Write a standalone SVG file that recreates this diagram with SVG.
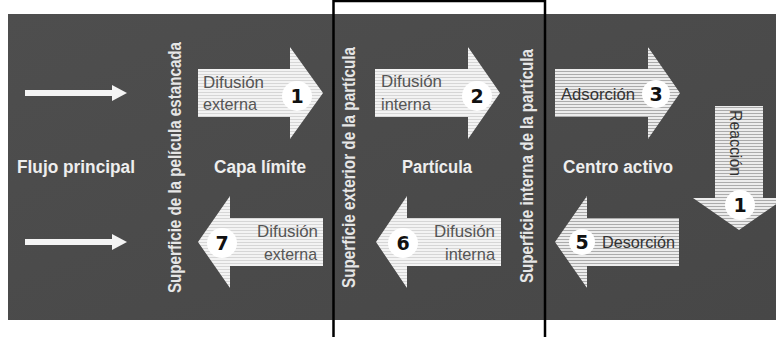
<svg xmlns="http://www.w3.org/2000/svg" width="776" height="337" viewBox="0 0 776 337">
<defs>
<pattern id="stripeL" width="6" height="3" patternUnits="userSpaceOnUse">
<rect width="6" height="3" fill="#f3f3f3"/>
<rect y="2" width="6" height="1" fill="#d6d6d6"/>
</pattern>
<pattern id="stripeD" width="6" height="3" patternUnits="userSpaceOnUse">
<rect width="6" height="3" fill="#ececec"/>
<rect y="2" width="6" height="1" fill="#ababab"/>
</pattern>
<linearGradient id="bg" x1="0" y1="0" x2="1" y2="1">
<stop offset="0" stop-color="#4e4e4e"/>
<stop offset="1" stop-color="#474747"/>
</linearGradient>
</defs>
<style>
.lbl{font-family:"Liberation Sans",Arial,sans-serif;font-weight:bold;font-size:18px;fill:#eeeeee;text-anchor:middle}
.vt{font-family:"Liberation Sans",Arial,sans-serif;font-weight:bold;font-size:17.5px;fill:#e6e6e6;text-anchor:middle}
.at{font-family:"Liberation Sans",Arial,sans-serif;font-size:17px;fill:#555555}
.atd{font-family:"Liberation Sans",Arial,sans-serif;font-size:17px;fill:#333333}
.num{font-family:"DejaVu Sans",Verdana,sans-serif;font-weight:bold;font-size:19px;fill:#111111;text-anchor:middle;dominant-baseline:central}
.circ{fill:#ffffff}
.flow{fill:#f4f4f4}
</style>
<rect x="8" y="14" width="768" height="306" fill="url(#bg)"/>

<g id="connectors">
<g id="flow-top"><rect class="flow" x="25" y="90" width="88" height="6"/><polygon class="flow" points="112,85 127,93 112,101"/></g>
<g id="flow-bottom"><rect class="flow" x="25" y="239" width="88" height="6"/><polygon class="flow" points="112,234 127,242 112,250"/></g>
</g>

<g id="flujo-principal"><text class="lbl" x="76" y="173" textLength="118" lengthAdjust="spacingAndGlyphs">Flujo principal</text></g>
<g id="capa-limite"><text class="lbl" x="260" y="173" textLength="92" lengthAdjust="spacingAndGlyphs">Capa límite</text></g>
<g id="particula"><text class="lbl" x="437" y="173" textLength="70" lengthAdjust="spacingAndGlyphs">Partícula</text></g>
<g id="centro-activo"><text class="lbl" x="618" y="173" textLength="110" lengthAdjust="spacingAndGlyphs">Centro activo</text></g>

<g id="sup-pelicula"><text class="vt" transform="translate(181,167.5) rotate(-90)" textLength="251" lengthAdjust="spacingAndGlyphs">Superficie de la película estancada</text></g>
<g id="sup-exterior"><text class="vt" transform="translate(355,167.5) rotate(-90)" textLength="241" lengthAdjust="spacingAndGlyphs">Superficie exterior de la partícula</text></g>
<g id="sup-interna"><text class="vt" transform="translate(533,166) rotate(-90)" textLength="234" lengthAdjust="spacingAndGlyphs">Superficie interna de la partícula</text></g>

<g id="step1">
<polygon fill="url(#stripeL)" points="198,69 290,69 290,47 323,93 290,139 290,117 198,117"/>
<text class="at" x="203" y="88" textLength="61" lengthAdjust="spacingAndGlyphs">Difusión</text>
<text class="at" x="203" y="110" textLength="54" lengthAdjust="spacingAndGlyphs">externa</text>
<circle class="circ" cx="297" cy="96" r="15"/>
<text class="num" x="297" y="96">1</text>
</g>

<g id="step2">
<polygon fill="url(#stripeL)" points="375,69 468,69 468,47 500,93 468,139 468,117 375,117"/>
<text class="at" x="381" y="87" textLength="61" lengthAdjust="spacingAndGlyphs">Difusión</text>
<text class="at" x="381" y="110" textLength="50" lengthAdjust="spacingAndGlyphs">interna</text>
<circle class="circ" cx="477" cy="96" r="15"/>
<text class="num" x="477" y="96">2</text>
</g>

<g id="step3">
<polygon fill="url(#stripeD)" points="555,69 648,69 648,47 680,93 648,139 648,117 555,117"/>
<text class="atd" x="561" y="100" textLength="74" lengthAdjust="spacingAndGlyphs">Adsorción</text>
<circle class="circ" cx="656" cy="94" r="14"/>
<text class="num" x="656" y="94">3</text>
</g>

<g id="step4-reaccion">
<polygon fill="url(#stripeD)" points="715,106 763,106 763,198 785,198 739,230 693,198 715,198"/>
<text class="atd" transform="translate(730,110) rotate(90)" textLength="66" lengthAdjust="spacingAndGlyphs">Reacción</text>
<circle class="circ" cx="740" cy="205" r="15"/>
<text class="num" x="740" y="205">1</text>
</g>

<g id="step5">
<polygon fill="url(#stripeD)" points="555,242 587,196 587,218 679,218 679,266 587,266 587,288"/>
<text class="atd" x="602" y="248" textLength="73" lengthAdjust="spacingAndGlyphs">Desorción</text>
<circle class="circ" cx="582" cy="242" r="13"/>
<text class="num" x="582" y="242">5</text>
</g>

<g id="step6">
<polygon fill="url(#stripeL)" points="376,242 407,196 407,218 501,218 501,266 407,266 407,288"/>
<text class="at" x="495" y="237" text-anchor="end" textLength="61" lengthAdjust="spacingAndGlyphs">Difusión</text>
<text class="at" x="495" y="260" text-anchor="end" textLength="50" lengthAdjust="spacingAndGlyphs">interna</text>
<circle class="circ" cx="403" cy="243" r="15"/>
<text class="num" x="403" y="243">6</text>
</g>

<g id="step7">
<polygon fill="url(#stripeL)" points="198,242 230,196 230,218 323,218 323,266 230,266 230,288"/>
<text class="at" x="318" y="237" text-anchor="end" textLength="61" lengthAdjust="spacingAndGlyphs">Difusión</text>
<text class="at" x="317" y="260" text-anchor="end" textLength="53" lengthAdjust="spacingAndGlyphs">externa</text>
<circle class="circ" cx="222" cy="243" r="15"/>
<text class="num" x="222" y="243">7</text>
</g>

<g id="particle-frame">
<rect x="333.5" y="1" width="211.5" height="345" fill="none" stroke="#000000" stroke-width="2.5"/>
</g>
</svg>
